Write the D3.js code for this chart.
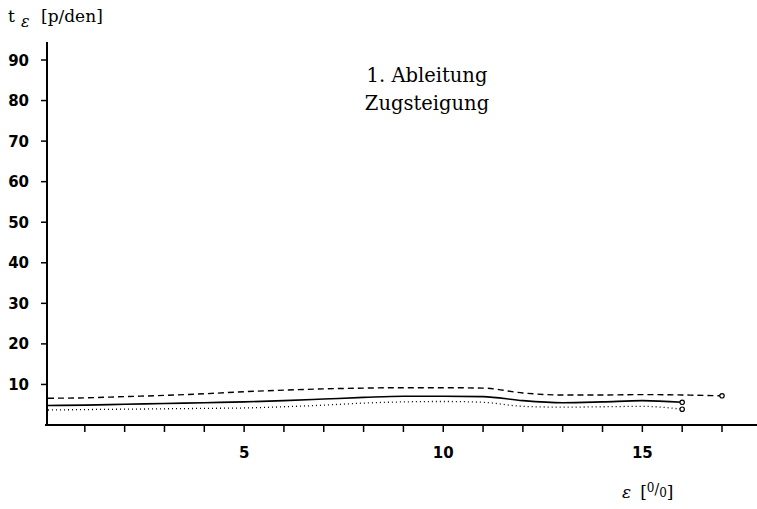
<!DOCTYPE html>
<html><head><meta charset="utf-8">
<script src="https://cdn.jsdelivr.net/npm/d3@7"></script>
<style>body{margin:0;background:#fff}svg{display:block}</style>
</head><body>
<script>
const xTicks = [1,2,3,4,5,6,7,8,9,10,11,12,13,14,15,16,17];
const xTickLabels = [5,10,15];
const yTicks = [10,20,30,40,50,60,70,80,90];
const dashedX = [0,1,2,3,4,5,6,7,8,9,10,11,12,13,14,15,16,17];
const dashedY = [6.6,6.7,7.0,7.3,7.7,8.2,8.6,8.9,9.1,9.2,9.2,9.1,7.9,7.4,7.4,7.5,7.4,7.2];
const solidX = [0,1,2,3,4,5,6,7,8,9,10,11,12,13,14,15,16];
const solidY = [4.8,4.9,5.1,5.3,5.5,5.7,6.0,6.4,6.8,7.1,7.1,7.0,6.0,5.5,5.7,6.0,5.6];
const dottedX = [0,1,2,3,4,5,6,7,8,9,10,11,12,13,14,15,16];
const dottedY = [3.7,3.8,3.9,4.0,4.1,4.2,4.5,4.9,5.4,5.7,5.8,5.6,4.6,4.4,4.5,4.6,3.9];

const W=757,H=509;
const svg=d3.select("body").append("svg").attr("width",W).attr("height",H);
const x=d3.scaleLinear().domain([0,17]).range([45,722]);
const y=d3.scaleLinear().domain([0,90]).range([425,60]);

// axes
svg.append("line").attr("x1",x(0)).attr("x2",757).attr("y1",y(0)).attr("y2",y(0)).attr("stroke","#000").attr("stroke-width",2);
svg.append("line").attr("x1",47).attr("x2",47).attr("y1",42).attr("y2",y(0)).attr("stroke","#000").attr("stroke-width",2);

const tickFont="DejaVu Sans, Liberation Sans, sans-serif";
const gx=svg.append("g");
gx.selectAll("line").data(xTicks).join("line")
  .attr("x1",d=>x(d)).attr("x2",d=>x(d)).attr("y1",y(0)).attr("y2",y(0)+7)
  .attr("stroke","#000").attr("stroke-width",1.5);
gx.selectAll("text").data(xTickLabels).join("text")
  .attr("x",d=>x(d)).attr("y",458).attr("text-anchor","middle")
  .attr("font-family",tickFont).attr("font-weight","bold").attr("font-size",15)
  .text(d=>d);

const gy=svg.append("g");
gy.selectAll("line").data(yTicks).join("line")
  .attr("x1",41).attr("x2",47).attr("y1",d=>y(d)).attr("y2",d=>y(d))
  .attr("stroke","#000").attr("stroke-width",1.5);
gy.selectAll("text").data(yTicks).join("text")
  .attr("x",29).attr("y",d=>y(d)+5.5).attr("text-anchor","end")
  .attr("font-family",tickFont).attr("font-weight","bold").attr("font-size",15)
  .text(d=>d);

// lines
const line=d3.line().curve(d3.curveMonotoneX);
function drawSeries(xs,ys,dash,w){
  const pts=xs.map((v,i)=>[x(v),y(ys[i])]);
  pts[0][0]=48;
  svg.append("path").attr("d",line(pts)).attr("fill","none").attr("stroke","#000")
    .attr("stroke-width",w).attr("stroke-dasharray",dash);
  const last=pts[pts.length-1];
  svg.append("circle").attr("cx",last[0]).attr("cy",last[1]).attr("r",2.2)
    .attr("fill","#fff").attr("stroke","#000").attr("stroke-width",1.2);
}
drawSeries(dashedX,dashedY,"6,4",1.4);
drawSeries(solidX,solidY,null,1.6);
drawSeries(dottedX,dottedY,"1,3",1.3);

// texts
const serif="DejaVu Serif, Liberation Serif, serif";
svg.append("text").attr("x",8).attr("y",22).attr("font-family",serif).attr("font-size",17).text("t");
svg.append("text").attr("x",21).attr("y",27).attr("font-family",serif).attr("font-style","italic").attr("font-size",16).text("ε");
svg.append("text").attr("x",41).attr("y",22).attr("font-family",serif).attr("font-size",17).text("[p/den]");

svg.append("text").attr("x",427).attr("y",82).attr("text-anchor","middle").attr("font-family",serif).attr("font-size",19.5).text("1. Ableitung");
svg.append("text").attr("x",427).attr("y",110).attr("text-anchor","middle").attr("font-family",serif).attr("font-size",19.5).text("Zugsteigung");

const e=svg.append("text").attr("x",622).attr("y",498).attr("font-family",serif).attr("font-size",17);
e.append("tspan").attr("font-style","italic").text("ε");
e.append("tspan").attr("dx",9).text("[");
e.append("tspan").attr("font-size",12).attr("dy",-6).text("0");
e.append("tspan").attr("font-size",14).attr("dy",2).text("/");
e.append("tspan").attr("font-size",12).attr("dy",3).text("0");
e.append("tspan").attr("dy",1).text("]");
</script>
</body></html>
